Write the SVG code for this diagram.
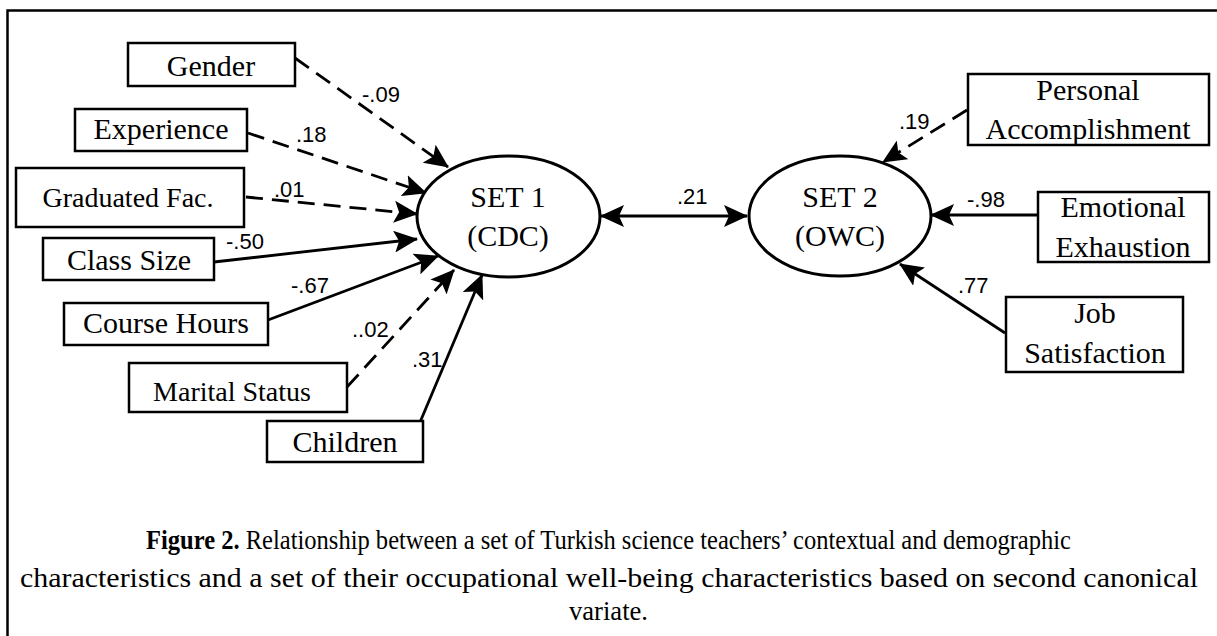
<svg xmlns="http://www.w3.org/2000/svg" width="1217" height="636" viewBox="0 0 1217 636">
<style>
.box{fill:#fff;stroke:#000;stroke-width:2.5}
.ell{fill:#fff;stroke:#000;stroke-width:3}
.t{font-family:"Liberation Serif","Times New Roman",serif;font-size:30px;fill:#000;text-anchor:middle}
.lab{font-family:"Liberation Sans",Arial,sans-serif;font-size:22px;fill:#000}
.ln{stroke:#000;stroke-width:2.8;fill:none}
.dash{stroke-dasharray:17 9}
.cap{font-family:"Liberation Serif","Times New Roman",serif;font-size:27px;fill:#000}
</style>
<defs>
<marker id="ah" markerUnits="userSpaceOnUse" markerWidth="24" markerHeight="22" viewBox="0 0 24 22" refX="23" refY="11" orient="auto-start-reverse">
<path d="M0,0 L24,11 L0,22 L5,11 z" fill="#000" stroke="none"/>
</marker>
</defs>
<rect x="7.5" y="10.5" width="1220" height="640" fill="none" stroke="#000" stroke-width="2.5"/>
<g id="connectors">
<line class="ln dash" x1="295" y1="58" x2="448" y2="167" marker-end="url(#ah)"/>
<line class="ln dash" x1="248" y1="133" x2="426" y2="193" marker-end="url(#ah)"/>
<line class="ln dash" x1="246" y1="197" x2="417" y2="214" marker-end="url(#ah)"/>
<line class="ln" x1="214" y1="262" x2="417" y2="239" marker-end="url(#ah)"/>
<line class="ln" x1="268" y1="320" x2="438" y2="256" marker-end="url(#ah)"/>
<line class="ln dash" x1="347" y1="387" x2="454" y2="270" marker-end="url(#ah)"/>
<line class="ln" x1="418" y1="427" x2="482" y2="275" marker-end="url(#ah)"/>
<line class="ln" x1="601" y1="216" x2="747" y2="216" marker-start="url(#ah)" marker-end="url(#ah)"/>
<line class="ln dash" x1="967" y1="110" x2="883" y2="162" marker-end="url(#ah)"/>
<line class="ln" x1="1038" y1="215" x2="931" y2="215" marker-end="url(#ah)"/>
<line class="ln" x1="1005" y1="333" x2="900" y2="264" marker-end="url(#ah)"/>
<text class="lab" x="362" y="102">-.09</text>
<text class="lab" x="296" y="142">.18</text>
<text class="lab" x="274" y="197">.01</text>
<text class="lab" x="226" y="249">-.50</text>
<text class="lab" x="291" y="293">-.67</text>
<text class="lab" x="352" y="337">..02</text>
<text class="lab" x="412" y="367">.31</text>
<text class="lab" x="677" y="204">.21</text>
<text class="lab" x="899" y="129">.19</text>
<text class="lab" x="967" y="207">-.98</text>
<text class="lab" x="958" y="293">.77</text>
</g>
<g id="gender"><rect class="box" x="128" y="43" width="167" height="43"/><text class="t" x="211" y="76">Gender</text></g>
<g id="experience"><rect class="box" x="75" y="109" width="172" height="42"/><text class="t" x="161" y="139">Experience</text></g>
<g id="graduated"><rect class="box" x="16" y="168" width="228" height="59"/><text class="t" x="128" y="207" style="font-size:28px">Graduated Fac.</text></g>
<g id="classsize"><rect class="box" x="43" y="238" width="171" height="42"/><text class="t" x="129" y="270">Class Size</text></g>
<g id="coursehours"><rect class="box" x="64" y="303" width="204" height="42"/><text class="t" x="166" y="333">Course Hours</text></g>
<g id="marital"><rect class="box" x="129" y="363" width="218" height="49"/><text class="t" x="232" y="401" style="font-size:28px">Marital Status</text></g>
<g id="children"><rect class="box" x="267" y="421" width="156" height="41"/><text class="t" x="345" y="452">Children</text></g>
<g id="set1"><ellipse class="ell" cx="508.5" cy="216.5" rx="91.5" ry="60.5"/><text class="t" x="508" y="207">SET 1</text><text class="t" x="508" y="246">(CDC)</text></g>
<g id="set2"><ellipse class="ell" cx="840" cy="216" rx="91" ry="60"/><text class="t" x="840" y="207">SET 2</text><text class="t" x="840" y="246">(OWC)</text></g>
<g id="personal"><rect class="box" x="968" y="74" width="241" height="71"/><text class="t" x="1088" y="100">Personal</text><text class="t" x="1088" y="139">Accomplishment</text></g>
<g id="emotional"><rect class="box" x="1038" y="192" width="171" height="70"/><text class="t" x="1123" y="217">Emotional</text><text class="t" x="1123" y="257">Exhaustion</text></g>
<g id="job"><rect class="box" x="1006" y="297" width="177" height="75"/><text class="t" x="1095" y="323">Job</text><text class="t" x="1095" y="363">Satisfaction</text></g>
<g id="caption">
<text class="cap" x="146" y="549" textLength="925" lengthAdjust="spacingAndGlyphs"><tspan font-weight="bold">Figure 2.</tspan> Relationship between a set of Turkish science teachers’ contextual and demographic</text>
<text class="cap" x="20" y="587" textLength="1178" lengthAdjust="spacingAndGlyphs">characteristics and a set of their occupational well-being characteristics based on second canonical</text>
<text class="cap" x="569" y="620" textLength="79" lengthAdjust="spacingAndGlyphs">variate.</text>
</g>
</svg>
